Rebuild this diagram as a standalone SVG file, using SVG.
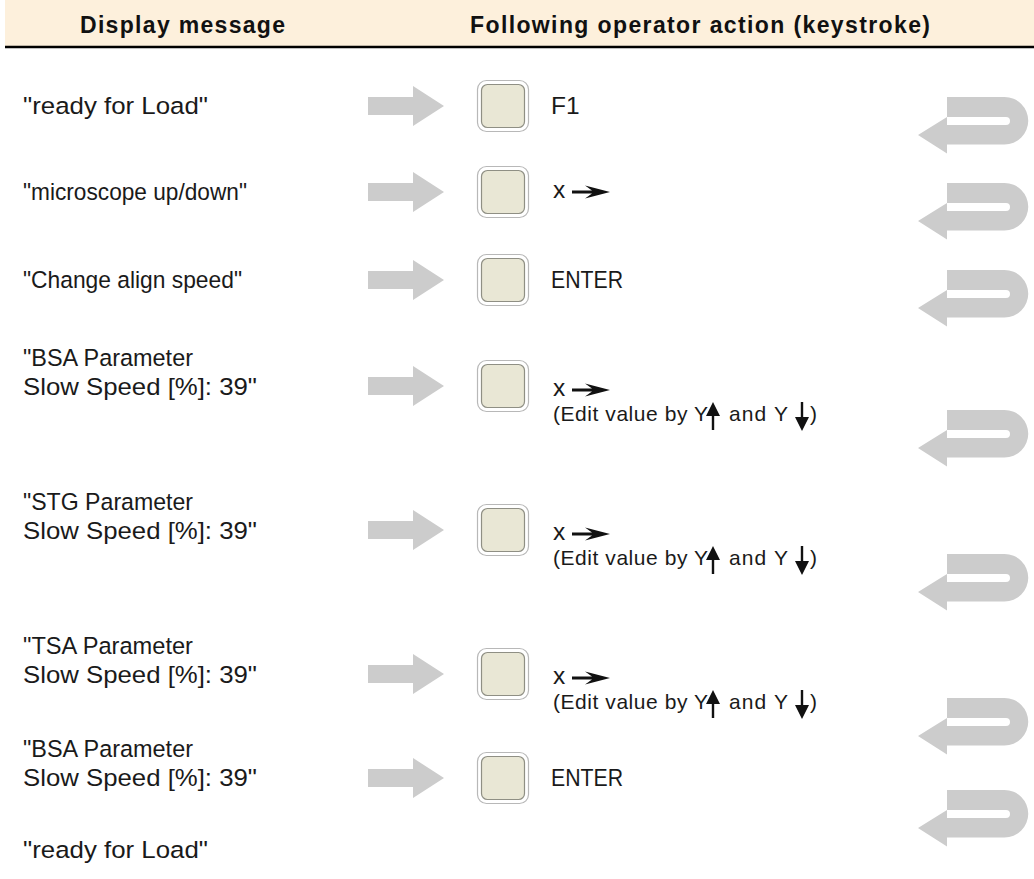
<svg xmlns="http://www.w3.org/2000/svg" width="1034" height="879" viewBox="0 0 1034 879">
<style>
.t{font-family:"Liberation Sans",Arial,sans-serif;font-size:24.5px;fill:#1a1a1a}
.h{font-family:"Liberation Sans",Arial,sans-serif;font-size:23px;font-weight:bold;fill:#111}
.e{font-family:"Liberation Sans",Arial,sans-serif;font-size:21px;fill:#1a1a1a}
.g{fill:#cccccc}
.k{fill:#111}
</style>
<defs>
<path id="ra" d="M368,-9 H413 V-20 L444,0 L413,20 V9 H368 Z"/>
<path id="ut" fill-rule="evenodd" d="M947,0 H1004.5 A23.75,23.75 0 0 1 1004.5,47.5 H947 V56.5 L918,38 L947,20 Z M947,20 H1006 A4,4 0 0 1 1006,28 H947 Z"/>
<g id="key">
<rect x="477.5" y="-25.5" width="51" height="51" rx="9" fill="#ffffff" stroke="#b8b8b8" stroke-width="1.2"/>
<rect x="481.5" y="-21.5" width="43" height="43" rx="6" fill="#e9e7d5" stroke="#8f8f84" stroke-width="1.2"/>
</g>
<path id="sa" d="M572,-1.6 H592 L585,-6.5 L610,0 L585,6.5 L592,1.6 H572 Z"/>
<path id="up" d="M711.8,9 V-5 H706 L713,-19 L720,-5 H714.2 V9 Z"/>
<path id="dn" d="M800.8,-19 H803.2 V-4 H809 L802,10 L795,-4 H800.8 Z"/>
</defs>

<g id="header">
<rect x="5" y="0" width="1029" height="46" fill="#fdf0dc"/>
<line x1="5" y1="47" x2="1034" y2="47" stroke="#000" stroke-width="2.5"/>
<text class="h" x="80" y="33" textLength="205" lengthAdjust="spacing">Display message</text>
<text class="h" x="470" y="33" textLength="460" lengthAdjust="spacing">Following operator action (keystroke)</text>
</g>

<g id="messages">
<text class="t" x="23" y="114" textLength="185" lengthAdjust="spacingAndGlyphs">"ready for Load"</text>
<text class="t" x="23" y="200" textLength="224" lengthAdjust="spacingAndGlyphs">"microscope up/down"</text>
<text class="t" x="23" y="288" textLength="219" lengthAdjust="spacingAndGlyphs">"Change align speed"</text>
<text class="t" x="23" y="366" textLength="170" lengthAdjust="spacingAndGlyphs">"BSA Parameter</text>
<text class="t" x="23" y="395" textLength="234" lengthAdjust="spacingAndGlyphs">Slow Speed [%]: 39"</text>
<text class="t" x="23" y="510" textLength="170" lengthAdjust="spacingAndGlyphs">"STG Parameter</text>
<text class="t" x="23" y="539" textLength="234" lengthAdjust="spacingAndGlyphs">Slow Speed [%]: 39"</text>
<text class="t" x="23" y="654" textLength="170" lengthAdjust="spacingAndGlyphs">"TSA Parameter</text>
<text class="t" x="23" y="683" textLength="234" lengthAdjust="spacingAndGlyphs">Slow Speed [%]: 39"</text>
<text class="t" x="23" y="757" textLength="170" lengthAdjust="spacingAndGlyphs">"BSA Parameter</text>
<text class="t" x="23" y="786" textLength="234" lengthAdjust="spacingAndGlyphs">Slow Speed [%]: 39"</text>
<text class="t" x="23" y="858" textLength="185" lengthAdjust="spacingAndGlyphs">"ready for Load"</text>
</g>

<g id="connectors">
<use href="#ra" class="g" transform="translate(0,106)"/>
<use href="#ra" class="g" transform="translate(0,192)"/>
<use href="#ra" class="g" transform="translate(0,280)"/>
<use href="#ra" class="g" transform="translate(0,386)"/>
<use href="#ra" class="g" transform="translate(0,530)"/>
<use href="#ra" class="g" transform="translate(0,674)"/>
<use href="#ra" class="g" transform="translate(0,778)"/>
<use href="#ut" class="g" transform="translate(0,97)"/>
<use href="#ut" class="g" transform="translate(0,183)"/>
<use href="#ut" class="g" transform="translate(0,270)"/>
<use href="#ut" class="g" transform="translate(0,410)"/>
<use href="#ut" class="g" transform="translate(0,554)"/>
<use href="#ut" class="g" transform="translate(0,698)"/>
<use href="#ut" class="g" transform="translate(0,790)"/>
</g>

<g id="key1"><use href="#key" transform="translate(0,106)"/><text class="t" x="551" y="114">F1</text></g>
<g id="key2"><use href="#key" transform="translate(0,192)"/><text class="t" x="553" y="198">x</text><use href="#sa" class="k" transform="translate(0,192)"/></g>
<g id="key3"><use href="#key" transform="translate(0,280)"/><text class="t" x="551" y="288" textLength="72" lengthAdjust="spacingAndGlyphs">ENTER</text></g>
<g id="key4"><use href="#key" transform="translate(0,386)"/><text class="t" x="553" y="396">x</text><use href="#sa" class="k" transform="translate(0,390)"/>
<text class="e" x="553" y="421" textLength="155" lengthAdjust="spacing">(Edit value by Y</text><use href="#up" class="k" transform="translate(0,421)"/><text class="e" x="729" y="421" textLength="59" lengthAdjust="spacing">and Y</text><use href="#dn" class="k" transform="translate(0,421)"/><text class="e" x="810" y="421">)</text></g>
<g id="key5"><use href="#key" transform="translate(0,530)"/><text class="t" x="553" y="540">x</text><use href="#sa" class="k" transform="translate(0,534)"/>
<text class="e" x="553" y="565" textLength="155" lengthAdjust="spacing">(Edit value by Y</text><use href="#up" class="k" transform="translate(0,565)"/><text class="e" x="729" y="565" textLength="59" lengthAdjust="spacing">and Y</text><use href="#dn" class="k" transform="translate(0,565)"/><text class="e" x="810" y="565">)</text></g>
<g id="key6"><use href="#key" transform="translate(0,674)"/><text class="t" x="553" y="684">x</text><use href="#sa" class="k" transform="translate(0,678)"/>
<text class="e" x="553" y="709" textLength="155" lengthAdjust="spacing">(Edit value by Y</text><use href="#up" class="k" transform="translate(0,709)"/><text class="e" x="729" y="709" textLength="59" lengthAdjust="spacing">and Y</text><use href="#dn" class="k" transform="translate(0,709)"/><text class="e" x="810" y="709">)</text></g>
<g id="key7"><use href="#key" transform="translate(0,778)"/><text class="t" x="551" y="786" textLength="72" lengthAdjust="spacingAndGlyphs">ENTER</text></g>
</svg>
